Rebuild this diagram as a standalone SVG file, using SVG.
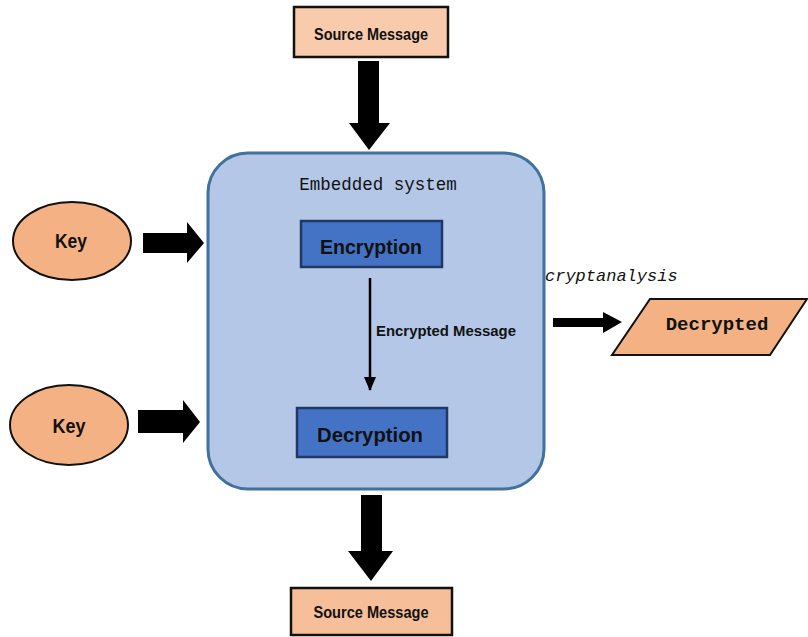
<svg xmlns="http://www.w3.org/2000/svg" width="808" height="637" viewBox="0 0 808 637">
  <style>
    .label { font-family: "Liberation Sans Narrow", "Liberation Sans", Arial, sans-serif; font-weight: bold; fill: #111; text-anchor: middle; }
    .mono { font-family: "Liberation Mono", "Courier New", monospace; fill: #111; }
    .msg { fill: #F8CBAD; stroke: #111; stroke-width: 2.5; }
    .key { fill: #F4B183; stroke: #111; stroke-width: 2; }
    .stage { fill: #4472C4; stroke: #1F3864; stroke-width: 2.5; }
    .block { fill: #000; }
  </style>
  <defs>
    <marker id="thinHead" markerWidth="14" markerHeight="12" refX="13" refY="6" orient="auto" markerUnits="userSpaceOnUse" viewBox="0 0 14 12">
      <path d="M0,0 L14,6 L0,12 Z" fill="#000"/>
    </marker>
  </defs>
  <rect width="808" height="637" fill="#fff"/>

  <!-- source message (input) -->
  <g id="source-in">
    <rect class="msg" x="294" y="7" width="154" height="50"/>
    <text class="label" x="371" y="40" font-size="17" textLength="114" lengthAdjust="spacingAndGlyphs">Source Message</text>
  </g>

  <!-- embedded system container -->
  <g id="embedded-system">
    <rect x="208" y="153" width="336" height="336" rx="40" ry="40" fill="#B4C7E7" stroke="#41719C" stroke-width="3"/>
    <text class="mono" x="378" y="190" font-size="17.5" text-anchor="middle">Embedded system</text>
  </g>

  <g id="encryption">
    <rect class="stage" x="301" y="221" width="141" height="46"/>
    <text class="label" x="371" y="254" font-size="20" textLength="102" lengthAdjust="spacingAndGlyphs">Encryption</text>
  </g>

  <g id="decryption">
    <rect class="stage" x="297" y="408" width="150" height="49"/>
    <text class="label" x="370" y="442" font-size="20" textLength="106" lengthAdjust="spacingAndGlyphs">Decryption</text>
  </g>

  <g id="key-1">
    <ellipse class="key" cx="72" cy="241" rx="59" ry="39"/>
    <text class="label" x="71" y="248" font-size="21" textLength="32" lengthAdjust="spacingAndGlyphs">Key</text>
  </g>

  <g id="key-2">
    <ellipse class="key" cx="69" cy="425" rx="59" ry="40"/>
    <text class="label" x="69" y="433" font-size="21" textLength="33" lengthAdjust="spacingAndGlyphs">Key</text>
  </g>

  <g id="decrypted">
    <polygon class="key" points="650,299 807,299 770,355 612,355"/>
    <text class="mono" x="717" y="330" font-size="19" font-weight="bold" text-anchor="middle">Decrypted</text>
  </g>

  <!-- source message (output) -->
  <g id="source-out">
    <rect x="291" y="588" width="161" height="47" fill="#F6BF99" stroke="#111" stroke-width="2.5"/>
    <text class="label" x="371" y="618" font-size="17" textLength="115" lengthAdjust="spacingAndGlyphs">Source Message</text>
  </g>

  <!-- connectors -->
  <g id="connectors">
    <polygon class="block" points="358,61 379,61 379,123 390,123 369,150 349,123 358,123"/>
    <polygon class="block" points="361,495 382,495 382,551 393,551 371,581 348,551 361,551"/>
    <polygon class="block" points="143,233 187,233 187,222 204,243 187,263 187,253 143,253"/>
    <polygon class="block" points="138,410 183,410 183,400 200,422 183,443 183,433 138,433"/>
    <polygon class="block" points="553,318 603,318 603,312 622,322 603,333 603,327 553,327"/>
    <line x1="370" y1="278" x2="370" y2="390" stroke="#000" stroke-width="2.5" marker-end="url(#thinHead)"/>
    <text class="label" x="446" y="336" font-size="14" textLength="140" lengthAdjust="spacingAndGlyphs">Encrypted Message</text>
    <text class="mono" x="545" y="281" font-size="17" font-style="italic">cryptanalysis</text>
  </g>
</svg>
